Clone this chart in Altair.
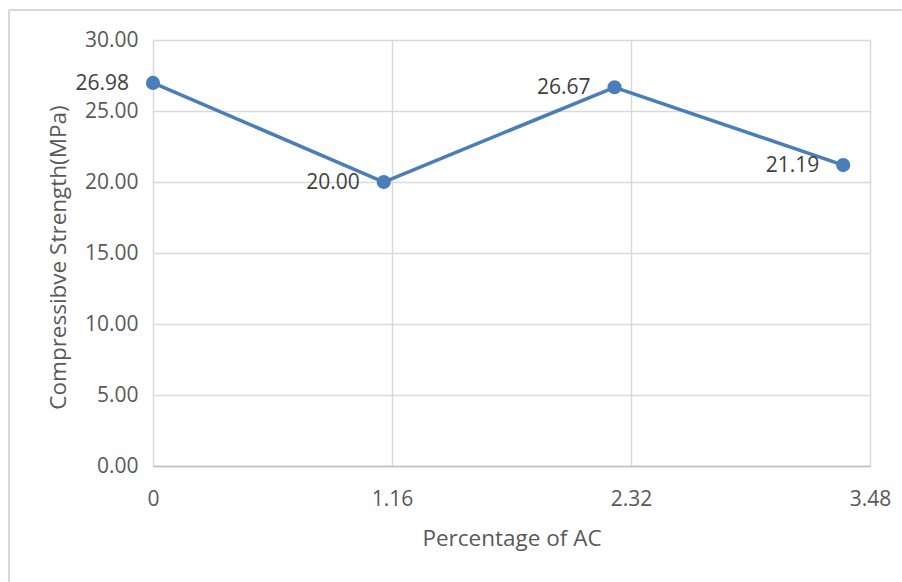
import altair as alt
import pandas as pd

# Compressive strength against AC content
ac_percent = [0.0, 1.12, 2.24, 3.35]
strength = [26.98, 20.00, 26.67, 21.19]
x_ticks = [0, 1.16, 2.32, 3.48]
y_ticks = [0, 5, 10, 15, 20, 25, 30]

df = pd.DataFrame({"ac": ac_percent, "strength": strength})

FONT = "Open Sans"
BLUE = "#4A7EBB"
GRID = "#D9D9D9"

x_enc = alt.X(
    "ac:Q",
    scale=alt.Scale(domain=[0, 3.48], nice=False, zero=False),
    axis=alt.Axis(
        values=x_ticks,
        labelExpr="datum.value == 0 ? '0' : format(datum.value, '.2f')",
        title="Percentage of AC",
        titleFont=FONT,
        titleFontSize=22.5,
        titleFontWeight="normal",
        titleColor="#595959",
        titleY=84,
        titleBaseline="bottom",
        labelFont=FONT,
        labelFontSize=21,
        labelColor="#595959",
        labelPadding=22,
        labelBaseline="top",
        labelFlush=False,
        tickSize=0,
        domainColor="#BFBFBF",
        domainWidth=1.5,
        grid=True,
        gridColor=GRID,
        gridWidth=1.5,
    ),
)
y_enc = alt.Y(
    "strength:Q",
    scale=alt.Scale(domain=[0, 30], nice=False),
    axis=alt.Axis(
        values=y_ticks,
        format=".2f",
        title="Compressibve Strength(MPa)",
        titleFont=FONT,
        titleFontSize=22.5,
        titleFontWeight="normal",
        titleColor="#595959",
        titleX=-95,
        titleY=217,
        titleAngle=270,
        titleBaseline="middle",
        labelFont=FONT,
        labelFontSize=21,
        labelColor="#595959",
        labelPadding=15,
        tickSize=0,
        domain=False,
        grid=True,
        gridColor=GRID,
        gridWidth=1.5,
    ),
)

base = alt.Chart(df)

line = base.mark_line(color=BLUE, strokeWidth=3.5).encode(x=x_enc, y=y_enc)
points = base.mark_circle(color=BLUE, size=200, opacity=1).encode(x="ac:Q", y="strength:Q")
labels = base.mark_text(
    align="right", baseline="middle", dx=-24, dy=1,
    font=FONT, fontSize=21, color="#404040",
).encode(x="ac:Q", y="strength:Q", text=alt.Text("strength:Q", format=".2f"))

# thin frame around the chart (top and left edges)
frame_src = alt.Data(values=[{}])
frame_top = alt.Chart(frame_src).mark_rule(color=GRID, strokeWidth=2).encode(
    x=alt.value(-144), x2=alt.value(749), y=alt.value(-30)
)
frame_left = alt.Chart(frame_src).mark_rule(color=GRID, strokeWidth=2).encode(
    x=alt.value(-144), y=alt.value(-30), y2=alt.value(542)
)

chart = (
    alt.layer(line, points, labels, frame_top, frame_left)
    .properties(
        width=717,
        height=426,
        padding={"left": 153, "right": 32, "top": 40, "bottom": 116},
        autosize=alt.AutoSizeParams(type="none"),
        background="white",
    )
    .configure_view(stroke=None)
)

chart.save("out.html", embed_options={"renderer": "svg", "actions": False})
